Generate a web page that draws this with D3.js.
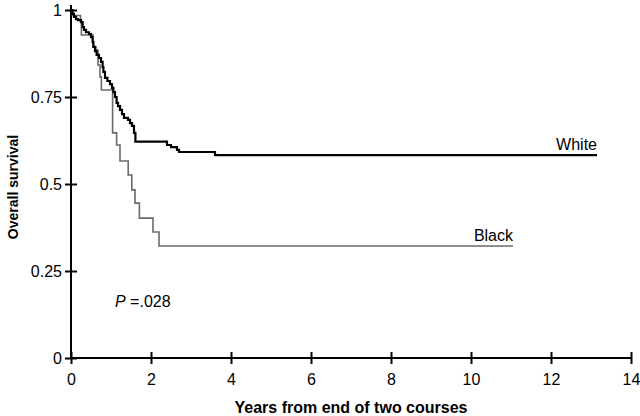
<!DOCTYPE html>
<html>
<head>
<meta charset="utf-8">
<script src="https://cdn.jsdelivr.net/npm/d3@7"></script>
<style>
  body { margin: 0; background: #fff; }
  svg { display: block; font-family: "Liberation Sans", Arial, sans-serif; }
</style>
</head>
<body>
<div id="viz"></div>
<script>
// Kaplan-Meier steps (years, survival)
var whiteYears = [0, 0.04, 0.075, 0.125, 0.175, 0.25, 0.29, 0.325, 0.375, 0.45, 0.5, 0.54, 0.56, 0.6, 0.64, 0.7,
                  0.75, 0.79, 0.81, 0.85, 0.91, 0.975, 1.025, 1.06, 1.1, 1.14, 1.175, 1.225, 1.275, 1.325,
                  1.425, 1.475, 1.525, 1.575, 1.61, 2.4, 2.5, 2.65, 2.7, 3.6, 13.15];
var whiteSurv = [1, 0.989, 0.980, 0.974, 0.971, 0.965, 0.951, 0.943, 0.936, 0.931, 0.922, 0.908, 0.894, 0.882, 0.871, 0.862,
                 0.851, 0.836, 0.822, 0.805, 0.796, 0.787, 0.776, 0.764, 0.750, 0.733, 0.724, 0.713, 0.701, 0.690,
                 0.684, 0.675, 0.667, 0.647, 0.622, 0.612, 0.606, 0.598, 0.592, 0.583, 0.583];

var blackYears = [0, 0.04, 0.24, 0.26, 0.55, 0.625, 0.675, 0.725, 0.76, 1.04, 1.14, 1.225, 1.43, 1.52, 1.6, 1.71, 2.05, 2.2, 11.05];
var blackSurv = [1, 0.984, 0.966, 0.928, 0.894, 0.885, 0.842, 0.807, 0.770, 0.647, 0.612, 0.566, 0.526, 0.483, 0.445, 0.402, 0.362, 0.322, 0.322];

var xTicks = [0, 2, 4, 6, 8, 10, 12, 14];
var yTicks = [0, 0.25, 0.5, 0.75, 1];
var yTickLabels = ['0', '0.25', '0.5', '0.75', '1'];

var width = 640,
    height = 416;

var x = d3.scaleLinear().domain([0, 14]).range([71, 631]);
var y = d3.scaleLinear().domain([0, 1]).range([358, 10]);

var svg = d3.select('#viz').append('svg')
    .attr('width', width)
    .attr('height', height);

// y axis, ticks crossing the line
var yAxis = svg.append('g')
    .attr('transform', 'translate(' + x(0) + ',0)')
    .call(d3.axisLeft(y).tickValues(yTicks).tickSize(6).tickPadding(3)
        .tickFormat(function(d, i) { return yTickLabels[i]; }));
yAxis.select('.domain').attr('d', 'M0,5V' + y(0)).attr('stroke-width', 2);
yAxis.selectAll('.tick line').attr('x1', -6).attr('x2', 6).attr('stroke-width', 2);
yAxis.selectAll('.tick text').style('font-size', '16px').attr('fill', '#000');

var xAxis = svg.append('g')
    .attr('transform', 'translate(0,' + y(0) + ')')
    .call(d3.axisBottom(x).tickValues(xTicks).tickSize(6).tickPadding(10));
xAxis.select('.domain').attr('d', 'M' + x(0) + ',0H' + x(14)).attr('stroke-width', 2);
xAxis.selectAll('.tick line').attr('y1', -6).attr('y2', 6).attr('stroke-width', 2);
xAxis.selectAll('.tick text').style('font-size', '16px').attr('fill', '#000');

var line = d3.line()
    .x(function(d) { return x(d[0]); })
    .y(function(d) { return y(d[1]); })
    .curve(d3.curveStepAfter);

svg.append('path')
    .datum(blackYears.map(function(t, i) { return [t, blackSurv[i]]; }))
    .attr('d', line)
    .attr('fill', 'none')
    .attr('stroke', '#6a6a6a')
    .attr('stroke-width', 1.6);

svg.append('path')
    .datum(whiteYears.map(function(t, i) { return [t, whiteSurv[i]]; }))
    .attr('d', line)
    .attr('fill', 'none')
    .attr('stroke', '#000')
    .attr('stroke-width', 2.2);

// series labels
svg.append('text')
    .attr('x', x(13.15)).attr('y', y(0.583) - 5)
    .attr('text-anchor', 'end')
    .style('font-size', '16px')
    .text('White');

svg.append('text')
    .attr('x', x(11.05)).attr('y', y(0.322) - 5)
    .attr('text-anchor', 'end')
    .style('font-size', '16px')
    .text('Black');

var p = svg.append('text')
    .attr('x', 115).attr('y', 307)
    .style('font-size', '16px');
p.append('tspan').style('font-style', 'italic').text('P');
p.append('tspan').text(' =.028');

// axis titles
svg.append('text')
    .attr('x', (x(0) + x(14)) / 2).attr('y', 413)
    .attr('text-anchor', 'middle')
    .style('font-size', '16px')
    .style('font-weight', 'bold')
    .text('Years from end of two courses');

svg.append('text')
    .attr('transform', 'translate(18,187) rotate(-90)')
    .attr('text-anchor', 'middle')
    .style('font-size', '14px')
    .style('font-weight', 'bold')
    .text('Overall survival');
</script>
</body>
</html>
